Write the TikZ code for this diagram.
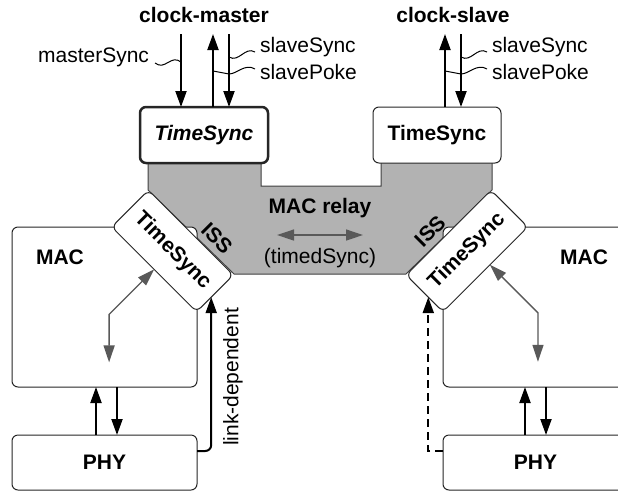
\documentclass[tikz,border=0pt]{standalone}
\usepackage{fontspec}
\setmainfont{Liberation Sans}
\usetikzlibrary{arrows.meta}

\begin{document}
\fontsize{21}{25}\selectfont
\begin{tikzpicture}[x=1pt, y=-1pt,
        every node/.style={inner sep=0pt, outer sep=0pt},
        box/.style={draw=black!85, line width=1pt, rounded corners=6pt, fill=white},
        sig/.style={-{Triangle[length=16pt,width=11pt]}, line width=2pt},
        relayarrow/.style={{Triangle[length=17pt,width=11pt]}-{Triangle[length=17pt,width=11pt]}, draw=black!65, line width=1.3pt},
        leader/.style={line width=1pt}]
        \useasboundingbox (0,0) rectangle (618,491);
        \clip (0,0) rectangle (618,491);

        \draw[fill=black!30, draw=black!75, line width=1pt] (148,150) -- (148,190) -- (234,274) -- (406,274) -- (492,190) -- (492,150) -- (381,150) -- (381,186) -- (261,186) -- (261,150) -- cycle;

        \node[box, minimum width=185pt, minimum height=160pt] (lmac) at (104.5,307) {};
        \node[box, minimum width=185pt, minimum height=160pt] (rmac) at (535.5,307) {};
        \node[box, minimum width=185pt, minimum height=55pt, font=\bfseries] (lphy) at (104.5,462.5) {PHY};
        \node[box, minimum width=185pt, minimum height=55pt, font=\bfseries] (rphy) at (535.5,462.5) {PHY};
        \node[font=\bfseries] (lmaclbl) at (60,257) {MAC};
        \node[font=\bfseries] (rmaclbl) at (584,257) {MAC};

        \node[box, rotate=-45, minimum width=120pt, minimum height=52pt, font=\bfseries] (tsl) at (172.5,251) {TimeSync};
        \node[box, rotate=45, minimum width=120pt, minimum height=52pt, font=\bfseries] (tsr) at (467,251) {TimeSync};
        \node[font=\bfseries, rotate=-45] (issl) at (217,238) {ISS};
        \node[font=\bfseries, rotate=45] (issr) at (430,231) {ISS};

        \node[box, line width=2.5pt, minimum width=128pt, minimum height=56pt, font=\bfseries\itshape] (tsm) at (204,135) {TimeSync};
        \node[box, minimum width=128pt, minimum height=56pt, font=\bfseries] (tss) at (437,135) {TimeSync};

        \node[font=\bfseries] (master) at (204,15) {clock-master};
        \node[font=\bfseries] (slave) at (453,15) {clock-slave};
        \node[font=\bfseries] (relay) at (320,208) {MAC relay};
        \node (timed) at (320,258) {(timedSync)};
        \node[rotate=90] (linkdep) at (233,377) {link-dependent};

        \node[anchor=east] (msync) at (149,57) {masterSync};
        \node[anchor=west] (ssyncm) at (260,47) {slaveSync};
        \node[anchor=west] (spokem) at (260,72) {slavePoke};
        \node[anchor=west] (ssyncs) at (492,47) {slaveSync};
        \node[anchor=west] (spokes) at (492,72) {slavePoke};

        \draw[sig] ([xshift=-23]tsm.north) ++(0,-73) -- ++(0,73);
        \draw[sig] ([xshift=9]tsm.north) -- ++(0,-73);
        \draw[sig] ([xshift=25]tsm.north) ++(0,-73) -- ++(0,73);
        \draw[sig] ([xshift=8]tss.north) -- ++(0,-73);
        \draw[sig] ([xshift=24]tss.north) ++(0,-73) -- ++(0,73);

        \draw[leader] ([shift={(6,6)}]msync.east) .. controls +(10,8) and +(-10,-8) .. (181,62);
        \draw[leader] (229,57) .. controls +(10,6) and +(-10,-6) .. ([shift={(-5,5)}]ssyncm.west);
        \draw[leader] (213,71) -- (229,74) .. controls +(8,0) and +(-10,-6) .. ([shift={(-5,-3)}]spokem.west);
        \draw[leader] (461,57) .. controls +(10,6) and +(-10,-6) .. ([shift={(-5,5)}]ssyncs.west);
        \draw[leader] (445,71) -- (461,74) .. controls +(8,0) and +(-10,-6) .. ([shift={(-5,-3)}]spokes.west);

        \draw[relayarrow] (277,235) -- (363,235);
        \draw[relayarrow] (tsl.south) -- ++(-45,45) -- ++(0,48);
        \draw[relayarrow] (tsr.-76) -- ++(48,48) -- ++(0,49);

        \draw[sig] ([xshift=-8.5]lphy.north) -- ([xshift=-8.5]lmac.south);
        \draw[sig] ([xshift=12.5]lmac.south) -- ([xshift=12.5]lphy.north);
        \draw[sig] ([xshift=-10.5]rphy.north) -- ([xshift=-10.5]rmac.south);
        \draw[sig] ([xshift=10.5]rmac.south) -- ([xshift=10.5]rphy.north);

        \draw[sig, rounded corners=6pt] ([yshift=11.5]lphy.east) -| (tsl.-5);
        \draw[sig, dash pattern=on 8pt off 5pt] ([yshift=11.5]rphy.west) -| (tsr.185);
\end{tikzpicture}
\end{document}
